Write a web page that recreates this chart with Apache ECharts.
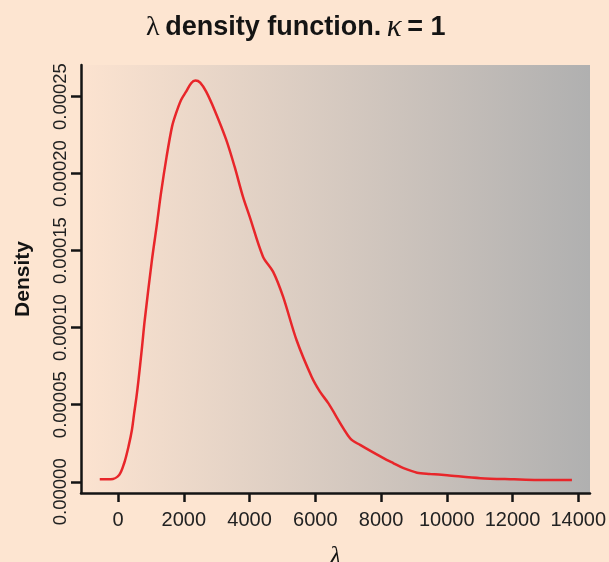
<!DOCTYPE html>
<html>
<head>
<meta charset="utf-8">
<script src="https://cdn.jsdelivr.net/npm/echarts@6/dist/echarts.min.js"></script>
<style>
  html, body { margin: 0; padding: 0; background: #fde5d1; }
  #chart { width: 609px; height: 562px; }
</style>
</head>
<body>
<div id="chart"></div>
<script>
// Kernel density estimate of lambda (kappa = 1)
const lambdaX = [
  -559, -223, 31, 183, 315, 419, 489, 559, 620, 718, 810, 1029, 1170, 1304,
  1475, 1640, 1763, 1915, 2068, 2221, 2352, 2496, 2679, 2933, 3290, 3544,
  3797, 4002, 4408, 4714, 5019, 5428, 5887, 6140, 6394, 7057, 7362, 8074,
  8379, 8685, 9094, 9500, 10011, 11028, 12045, 12760, 13808
];
const densityY = [
  0.0000016, 0.0000016, 0.0000044, 0.0000120, 0.0000228, 0.0000336, 0.0000447,
  0.0000552, 0.0000661, 0.0000856, 0.0001050, 0.0001440, 0.0001656, 0.0001873,
  0.0002110, 0.0002305, 0.0002392, 0.0002478, 0.0002532, 0.0002587, 0.0002604,
  0.0002591, 0.0002532, 0.0002413, 0.0002219, 0.0002045, 0.0001851, 0.0001721,
  0.0001461, 0.0001364, 0.0001201, 0.0000920, 0.0000682, 0.0000585, 0.0000510,
  0.0000282, 0.0000239, 0.0000153, 0.0000120, 0.0000088, 0.0000059, 0.0000051,
  0.0000042, 0.0000023, 0.0000016, 0.0000012, 0.0000012
];
const xTicks = [0, 2000, 4000, 6000, 8000, 10000, 12000, 14000];
const yTicks = [0, 0.00005, 0.0001, 0.00015, 0.0002, 0.00025];

const points = lambdaX.map((x, i) => [x, densityY[i]]);

const chart = echarts.init(document.getElementById('chart'));
const ink = '#141414';
const tickFont = { fontFamily: 'Liberation Sans', fontSize: 18.5, color: '#222' };

chart.setOption({
  backgroundColor: '#fde5d1',
  animation: false,
  title: {
    text: '{l|λ} {b|density function.} {k|κ} {b|= 1}',
    left: 141,
    top: 7,
    textStyle: {
      fontFamily: 'Liberation Sans',
      fontSize: 20,
      fontWeight: 'normal',
      color: ink,
      rich: {
        l: { fontFamily: 'Liberation Serif', fontWeight: 'normal', fontSize: 28, color: ink },
        b: { fontFamily: 'Liberation Sans', fontWeight: 'bold', fontSize: 27, color: ink },
        k: { fontFamily: 'Liberation Serif', fontStyle: 'italic', fontWeight: 'normal', fontSize: 31, color: ink }
      }
    }
  },
  grid: {
    left: 81, right: 19, top: 65, bottom: 69,
    outerBoundsMode: 'none',
    containLabel: false,
    show: true,
    borderWidth: 0,
    backgroundColor: new echarts.graphic.LinearGradient(0, 0, 1, 0, [
      { offset: 0, color: '#fce3d0' },
      { offset: 1, color: '#b0b0b0' }
    ])
  },
  xAxis: {
    type: 'value',
    min: -1130,
    max: 14358,
    name: 'λ',
    nameLocation: 'middle',
    nameGap: 51,
    nameTextStyle: { fontFamily: 'Liberation Serif', fontStyle: 'italic', fontSize: 26, color: ink },
    axisLine: { show: true, onZero: false, lineStyle: { color: ink, width: 2.5 } },
    axisTick: { show: true, length: 9, customValues: xTicks, lineStyle: { color: ink, width: 2.5 } },
    axisLabel: {
      customValues: xTicks,
      margin: 17,
      fontFamily: 'Liberation Sans',
      fontSize: 20,
      color: '#222',
      formatter: v => String(v)
    },
    splitLine: { show: false }
  },
  yAxis: {
    type: 'value',
    min: -0.0000073,
    max: 0.0002705,
    name: 'Density',
    nameLocation: 'middle',
    nameGap: 47,
    nameTextStyle: { fontFamily: 'Liberation Sans', fontWeight: 'bold', fontSize: 21, color: ink },
    axisLine: { show: true, onZero: false, lineStyle: { color: ink, width: 2.5 } },
    axisTick: { show: true, length: 10, customValues: yTicks, lineStyle: { color: ink, width: 2.5 } },
    axisLabel: Object.assign({
      customValues: yTicks,
      rotate: 90,
      margin: 11,
      // the zero label sits a little below its tick
      formatter: v => v === 0 ? '{z|' + v.toFixed(5) + '}' : v.toFixed(5),
      rich: { z: Object.assign({ padding: [0, 20, 0, 0] }, tickFont) }
    }, tickFont),
    splitLine: { show: false }
  },
  series: [{
    type: 'line',
    data: points,
    showSymbol: false,
    smooth: 0.3,
    lineStyle: { color: '#e8262a', width: 2.5 },
    silent: true
  }]
});
</script>
</body>
</html>
